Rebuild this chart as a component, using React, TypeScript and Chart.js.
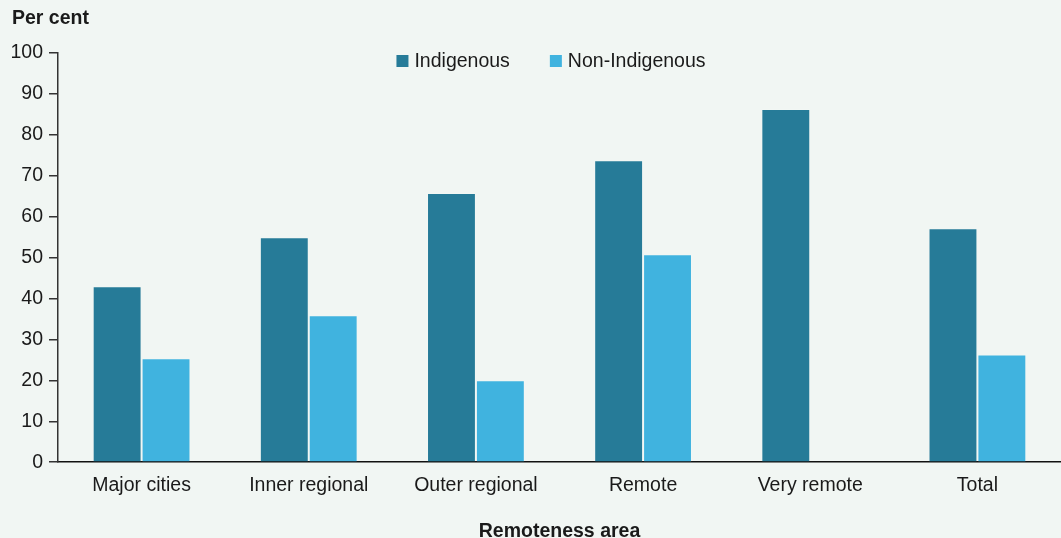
import React, { useEffect, useRef } from "react";
import { Chart, registerables } from "chart.js";

Chart.register(...registerables);

const categories = ["Major cities", "Inner regional", "Outer regional", "Remote", "Very remote", "Total"];
const indigenous = [43.0, 55.0, 65.8, 73.8, 86.3, 57.2];
const nonIndigenous: (number | null)[] = [25.4, 35.9, 20.0, 50.8, null, 26.3];
const seriesLabels = ["Indigenous", "Non-Indigenous"];
const seriesColors = ["#267b98", "#40b3df"];
const yTitle = "Per cent";
const xTitle = "Remoteness area";

const FONT = "'Liberation Sans', Arial, sans-serif";
const TEXT = "#1a1a1a";
const FS = 19.5;

const overlay = {
  id: "overlay",
  beforeDraw(chart: any) {
    const { ctx } = chart;
    ctx.save();
    ctx.fillStyle = "#f1f6f3";
    ctx.fillRect(0, 0, chart.width, chart.height);
    ctx.restore();
  },
  afterDraw(chart: any) {
    const { ctx } = chart;
    ctx.save();
    ctx.fillStyle = TEXT;
    ctx.font = `bold ${FS}px ${FONT}`;
    ctx.textBaseline = "middle";
    ctx.textAlign = "left";
    ctx.fillText(yTitle, 12, 19);

    // legend
    ctx.font = `${FS}px ${FONT}`;
    const box = 12;
    const gap = 6;
    const spacing = 40;
    const widths = chart.data.datasets.map((d: any) => box + gap + ctx.measureText(d.label).width);
    const total = widths.reduce((a: number, b: number) => a + b, 0) + spacing * (widths.length - 1);
    let x = 551 - total / 2;
    const y = 61;
    chart.data.datasets.forEach((d: any, i: number) => {
      ctx.fillStyle = d.backgroundColor;
      ctx.fillRect(x, y - box / 2, box, box);
      ctx.fillStyle = TEXT;
      ctx.fillText(d.label, x + box + gap, y + 1);
      x += widths[i] + spacing;
    });
    ctx.restore();
  },
};

export default function App() {
  const ref = useRef<HTMLCanvasElement | null>(null);
  useEffect(() => {
    if (!ref.current) return;
    const chart = new Chart(ref.current, {
      type: "bar",
      data: {
        labels: categories,
        datasets: [
          {
            label: seriesLabels[0],
            data: indigenous,
            backgroundColor: seriesColors[0],
            borderColor: "rgba(255,255,255,0.12)",
            borderWidth: 1,
            categoryPercentage: 0.585,
            barPercentage: 1,
          },
          {
            label: seriesLabels[1],
            data: nonIndigenous,
            backgroundColor: seriesColors[1],
            borderColor: "rgba(255,255,255,0.12)",
            borderWidth: 1,
            categoryPercentage: 0.585,
            barPercentage: 1,
          },
        ],
      },
      options: {
        animation: false,
        responsive: true,
        maintainAspectRatio: false,
        layout: { padding: { top: 53, right: 0, bottom: -5, left: 0 } },
        plugins: {
          legend: { display: false },
          tooltip: { enabled: false },
        },
        scales: {
          x: {
            grid: { display: false, drawTicks: false },
            border: { display: true, color: "#111", width: 1.5 },
            ticks: { color: TEXT, font: { family: FONT, size: FS }, padding: 12 },
            title: {
              display: true,
              text: xTitle,
              color: TEXT,
              font: { family: FONT, size: FS, weight: "bold" },
              padding: { top: 10, bottom: 0 },
            },
          },
          y: {
            min: 0,
            max: 100,
            afterFit(scale: any) {
              scale.width = 58;
            },
            grid: { drawOnChartArea: false, drawTicks: true, tickLength: 9, color: "#333", lineWidth: 1.5 },
            border: { display: true, color: "#333", width: 1.5 },
            ticks: { stepSize: 10, color: TEXT, font: { family: FONT, size: FS }, padding: 6 },
          },
        },
      },
      plugins: [overlay],
    });
    return () => chart.destroy();
  }, []);
  return (
    <div style={{ position: "fixed", left: 0, top: 0, width: 1061, height: 538 }}>
      <canvas ref={ref} />
    </div>
  );
}
